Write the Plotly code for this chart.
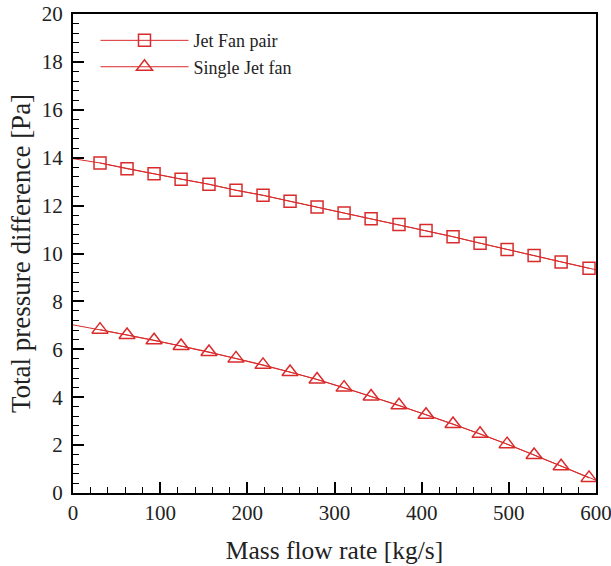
import plotly.graph_objects as go

# Marker positions (mass flow rate, kg/s)
mass_flow = [31, 62, 93, 124, 156, 187, 218, 249, 280, 311, 342, 374,
             405, 436, 467, 498, 529, 560, 592]
jet_fan_pair = [13.78, 13.54, 13.33, 13.10, 12.89, 12.64, 12.43, 12.18, 11.94,
                11.69, 11.45, 11.21, 10.96, 10.70, 10.43, 10.17, 9.92, 9.65, 9.38]
single_jet_fan = [6.82, 6.60, 6.38, 6.14, 5.89, 5.62, 5.35, 5.05, 4.74, 4.40,
                  4.03, 3.66, 3.27, 2.88, 2.47, 2.04, 1.59, 1.12, 0.63]

# Full curves (including end points of the lines)
curve_x = [0] + mass_flow + [600]
curve_pair = [13.96] + jet_fan_pair + [9.32]
curve_single = [7.02] + single_jet_fan + [0.53]

RED = "#d92b2b"
FONT = "Liberation Serif"
TXT = "#222"

fig = go.Figure()

fig.add_trace(go.Scatter(x=curve_x, y=curve_pair, mode="lines",
                         line=dict(color=RED, width=1), showlegend=False,
                         hoverinfo="skip", cliponaxis=False))
fig.add_trace(go.Scatter(x=curve_x, y=curve_single, mode="lines",
                         line=dict(color=RED, width=1), showlegend=False,
                         hoverinfo="skip", cliponaxis=False))

fig.add_trace(go.Scatter(x=mass_flow, y=jet_fan_pair, mode="lines+markers",
                         name="Jet Fan pair",
                         line=dict(color=RED, width=1),
                         marker=dict(symbol="square-open", size=12, color=RED,
                                     line=dict(width=1.5, color=RED)),
                         cliponaxis=False))
fig.add_trace(go.Scatter(x=mass_flow, y=single_jet_fan, mode="lines+markers",
                         name="Single Jet fan",
                         line=dict(color=RED, width=1),
                         marker=dict(symbol="triangle-up-open", size=14, color=RED,
                                     line=dict(width=1.5, color=RED)),
                         cliponaxis=False))

axis_common = dict(
    showgrid=False, zeroline=False, automargin=False,
    showline=True, linecolor="black", linewidth=2, mirror=True,
    ticks="inside", ticklen=11, tickwidth=2, tickcolor="black",
    ticklabeloverflow="allow",
    tickfont=dict(family=FONT, size=21, color=TXT),
)

fig.update_xaxes(range=[0, 600], dtick=100,
                 minor=dict(dtick=20, ticks="inside", ticklen=6, tickwidth=1,
                            tickcolor="black"),
                 title=dict(text="Mass flow rate [kg/s]",
                            font=dict(family=FONT, size=25.5, color=TXT),
                            standoff=17),
                 **axis_common)
fig.update_yaxes(range=[0, 20], dtick=2, ticklabelstandoff=4,
                 minor=dict(dtick=0.4, ticks="inside", ticklen=6, tickwidth=1,
                            tickcolor="black"),
                 title=dict(text="Total pressure difference [Pa]",
                            font=dict(family=FONT, size=27, color=TXT),
                            standoff=3),
                 **axis_common)

fig.update_layout(
    width=611, height=566,
    margin=dict(l=73, r=15, t=14, b=73),
    plot_bgcolor="white", paper_bgcolor="white",
    legend=dict(x=0.043, y=0.983, xanchor="left", yanchor="top",
                bgcolor="rgba(0,0,0,0)", itemwidth=88,
                font=dict(family=FONT, size=18, color=TXT),
                tracegroupgap=0),
)

fig.write_html("out.html",
               config={"displayModeBar": False},
               post_script="document.body.style.margin='0';document.body.style.overflow='hidden';")
